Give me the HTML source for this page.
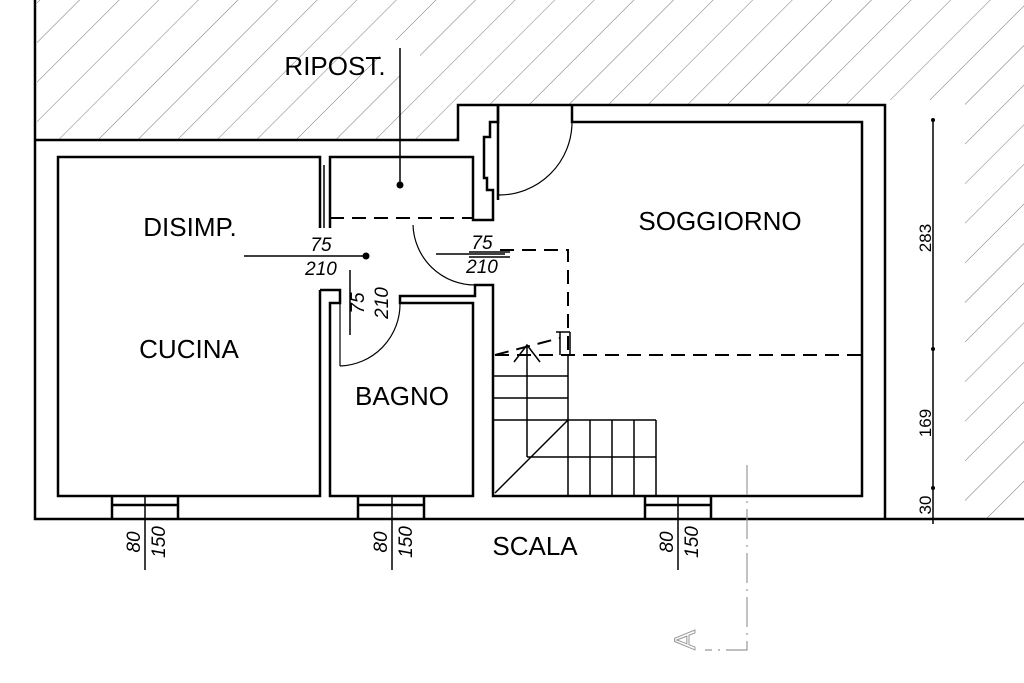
<!DOCTYPE html>
<html><head><meta charset="utf-8"><style>
html,body{margin:0;padding:0;background:#fff;}
svg{display:block}
text{font-family:"Liberation Sans",sans-serif;fill:#000}
</style></head><body>
<svg width="1024" height="683" viewBox="0 0 1024 683" xmlns="http://www.w3.org/2000/svg">
<defs>
<pattern id="h" patternUnits="userSpaceOnUse" width="28" height="28" patternTransform="rotate(45)">
<line x1="0" y1="0" x2="0" y2="28" stroke="#777" stroke-width="1"/>
</pattern>
</defs>
<path d="M37 0 H1024 V519 H965 V100 H885 V105 H458 V140 H37 Z" fill="url(#h)"/>
<rect x="380" y="40" width="40" height="35" fill="#fff"/>
<g stroke="#000" fill="none" stroke-width="2.5">
<path d="M35 0 V519 H1024"/>
<path d="M35 140 H458 V105 H885 V519"/>
<path d="M320 228 V157 H58 V496 H320 V290"/>
<path d="M330 228 V157 H473 V220 H493 V190 H487 V178 H484 V137 H490 V122 H498 V105"/>
<path d="M498 105 V200"/>
<path d="M572 105 V122 H862 V496 H493 V285 H475 V296 H400 V303 H473 V496 H330 V303 H340 V290 H320"/>
<path d="M112 496 V519 M178 496 V519 M112 505 H178"/>
<path d="M358 496 V519 M424 496 V519 M358 505 H424"/>
<path d="M645 496 V519 M711 496 V519 M645 505 H711"/>
</g>
<g stroke="#000" fill="none" stroke-width="1.5">
<path d="M324 165 V228"/>
<path d="M145 496 V570 M392 496 V570 M678 496 V570"/>
<path d="M493 376 H568 M493 398 H568 M493 420 H656 M527 457 H656 M568 355 V496 M590 420 V496 M612 420 V496 M634 420 V496 M656 420 V496 M527 345 V457 M495 493 L568 420"/>
<path d="M514 362 L527 345 L540 362"/>
<path d="M560 332 V355 M570 332 V355 M556 332 H570"/>
<path d="M933 120 V524 M244 256 H366 M436 254 H505 M469 252 H510 M469 257 H510 M350 270 V335 M400 48 V185"/>
</g>
<g stroke="#000" fill="none" stroke-width="2" stroke-dasharray="14,8">
<path d="M330 218 H473"/>
<path d="M500 250 H568 V355 M495 355 H862 M495 355 L560 338"/>
</g>
<g stroke="#000" fill="none" stroke-width="1.2">
<path d="M498 195 A73 73 0 0 0 572 122"/>
<path d="M413 225 A62 62 0 0 0 475 285"/>
<path d="M340 366 A62 62 0 0 0 400 303 M340 303 V366"/>
</g>
<circle cx="400" cy="185" r="3.5" fill="#000"/>
<circle cx="366" cy="256" r="3.5" fill="#000"/>
<circle cx="933" cy="120" r="2" fill="#000"/><circle cx="933" cy="349" r="2" fill="#000"/><circle cx="933" cy="488" r="2" fill="#000"/>
<path d="M747 465 V650 H705" stroke="#999" stroke-width="1.2" fill="none" stroke-dasharray="30,6,2,6"/>
<text x="0" y="0" transform="translate(695,640) rotate(-90)" font-size="30" text-anchor="middle" style="fill:#fff;stroke:#999;stroke-width:1">A</text>
<g font-size="26">
<text x="335" y="75" text-anchor="middle">RIPOST.</text>
<text x="190" y="236" text-anchor="middle">DISIMP.</text>
<text x="189" y="358" text-anchor="middle">CUCINA</text>
<text x="402" y="405" text-anchor="middle">BAGNO</text>
<text x="720" y="230" text-anchor="middle">SOGGIORNO</text>
<text x="535" y="555" text-anchor="middle">SCALA</text>
</g>
<g font-size="19" font-style="italic">
<text x="321" y="251" text-anchor="middle">75</text>
<text x="321" y="275" text-anchor="middle">210</text>
<text x="482" y="249" text-anchor="middle">75</text>
<text x="482" y="273" text-anchor="middle">210</text>
<text transform="translate(364,303) rotate(-90)" text-anchor="middle">75</text>
<text transform="translate(388,303) rotate(-90)" text-anchor="middle">210</text>
<text transform="translate(140,542) rotate(-90)" text-anchor="middle">80</text>
<text transform="translate(165,542) rotate(-90)" text-anchor="middle">150</text>
<text transform="translate(387,542) rotate(-90)" text-anchor="middle">80</text>
<text transform="translate(412,542) rotate(-90)" text-anchor="middle">150</text>
<text transform="translate(673,542) rotate(-90)" text-anchor="middle">80</text>
<text transform="translate(698,542) rotate(-90)" text-anchor="middle">150</text>
</g>
<g font-size="17">
<text transform="translate(931,238) rotate(-90)" text-anchor="middle">283</text>
<text transform="translate(931,423) rotate(-90)" text-anchor="middle">169</text>
<text transform="translate(931,505) rotate(-90)" text-anchor="middle">30</text>
</g>
</svg>
</body></html>
